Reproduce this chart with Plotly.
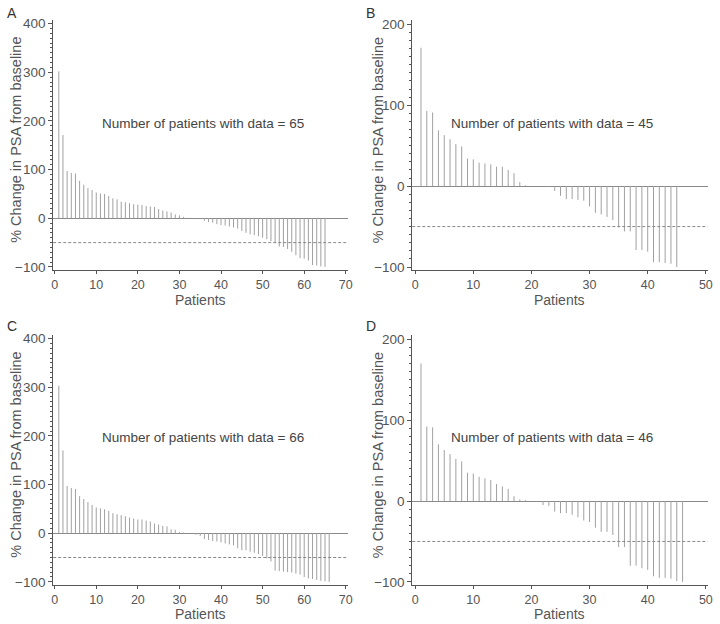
import plotly.graph_objects as go

# ---------------- data ----------------
change_A = [302, 171, 97, 93, 92, 77, 69, 62, 58, 53, 51, 50, 46, 41, 39, 34, 33, 31, 29, 28,
            27, 25, 24, 23, 19, 16, 14, 12, 8, 6, 3, 1, 0, -1,
            -2, -5, -8, -9, -12, -14, -15, -17, -19, -21, -26, -30, -33, -35, -37, -40,
            -43, -47, -51, -58, -59, -63, -69, -76, -82, -83, -87, -96, -97, -99, -100]
change_B = [171, 93, 91, 69, 63, 58, 52, 49, 34, 33, 29, 28, 27, 24, 24, 20, 16, 5, 1,
            0, 0, 0,
            -1, -6, -12, -16, -16, -17, -18, -25, -33, -35, -38, -42, -51, -56, -56,
            -79, -79, -81, -94, -94, -95, -96, -100]
change_C = [303, 170, 97, 93, 91, 76, 70, 64, 58, 53, 51, 49, 46, 41, 39, 37, 35, 32, 30, 28,
            28, 26, 24, 20, 18, 15, 14, 8, 7, 2, 1, 0, 0,
            -3, -6, -12, -14, -16, -17, -19, -21, -23, -25, -31, -35, -35, -38, -40,
            -43, -47, -52, -58, -77, -78, -79, -80, -81, -83, -85, -90, -93, -94, -96,
            -98, -99, -100]
change_D = [170, 92, 91, 70, 63, 58, 52, 49, 35, 34, 30, 28, 26, 21, 18, 15, 6, 2, 1,
            0, 0,
            -5, -6, -13, -15, -15, -17, -20, -24, -26, -33, -38, -38, -42, -57, -57,
            -80, -80, -83, -85, -93, -95, -95, -96, -99, -100]

panel_letters = ["A", "B", "C", "D"]
x_ticks_wide = [0, 10, 20, 30, 40, 50, 60, 70]
x_ticks_narrow = [0, 10, 20, 30, 40, 50]
y_ticks_wide = [-100, 0, 100, 200, 300, 400]
y_ticks_narrow = [-100, 0, 100, 200]
response_threshold = -50
x_title = "Patients"
y_title = "% Change in PSA from baseline"

W, H = 720, 624
def px(x):
    return x / W
def py(y):
    return 1 - y / H

panels = [
    dict(vals=change_A, xd=(51.7, 349.5), yd=(16.5, 269.5), xr=[-0.35, 70.55], yr=[-105.5, 407],
         xt=x_ticks_wide, yt=y_ticks_wide, letter=(3, 9), ytx=14, nx=203, ny=121, xty=300),
    dict(vals=change_B, xd=(414.3, 712.5), yd=(16.5, 269.5), xr=[-0.5, 50.3], yr=[-103.2, 205],
         xt=x_ticks_narrow, yt=y_ticks_narrow, letter=(366, 9), ytx=380, nx=555, ny=121, xty=300),
    dict(vals=change_C, xd=(51.7, 349.5), yd=(336, 589), xr=[-0.35, 70.55], yr=[-105.5, 407],
         xt=x_ticks_wide, yt=y_ticks_wide, letter=(3, 327), ytx=14, nx=203, ny=440, xty=618.5),
    dict(vals=change_D, xd=(414.3, 712.5), yd=(336, 589), xr=[-0.5, 50.3], yr=[-103.2, 205],
         xt=x_ticks_narrow, yt=y_ticks_narrow, letter=(366, 327), ytx=380, nx=555, ny=440, xty=618.5),
]

AXC = "#555555"
TXT = "#555555"
FONT = "Liberation Sans, Arial, Helvetica, sans-serif"

fig = go.Figure()
annotations = []
shapes = []
layout_axes = {}

for k, p in enumerate(panels):
    n = k + 1
    sfx = "" if n == 1 else str(n)
    xs, ys = [], []
    for i, v in enumerate(p["vals"], start=1):
        xs += [i, i, None]
        ys += [0, v, None]
    fig.add_trace(go.Scatter(x=xs, y=ys, mode="lines",
                             line=dict(color="#a0a0a0", width=1),
                             xaxis="x" + sfx, yaxis="y" + sfx,
                             hoverinfo="skip", showlegend=False))
    layout_axes["xaxis" + sfx] = dict(
        domain=[px(p["xd"][0]), px(p["xd"][1])], range=p["xr"], anchor="y" + sfx,
        showline=True, linecolor=AXC, linewidth=1, ticks="outside", ticklen=3,
        tickcolor=AXC, tickvals=p["xt"], showgrid=False, zeroline=False,
        tickfont=dict(size=12.5, color=TXT, family=FONT))
    layout_axes["yaxis" + sfx] = dict(
        domain=[py(p["yd"][1]), py(p["yd"][0])], range=p["yr"], anchor="x" + sfx,
        showline=True, linecolor=AXC, linewidth=1, ticks="outside", ticklen=4,
        tickcolor=AXC, tickvals=p["yt"], showgrid=False,
        minor=dict(dtick=10, tick0=0, ticks="outside", ticklen=2.5, tickcolor=AXC, showgrid=False),
        zeroline=True, zerolinecolor="#8a8a8a", zerolinewidth=1,
        tickfont=dict(size=13.5, color=TXT, family=FONT))
    shapes.append(dict(type="line", xref="x" + sfx + " domain", yref="y" + sfx,
                       x0=0, x1=1, y0=response_threshold, y1=response_threshold,
                       line=dict(color="#888888", width=1, dash="3px,2px")))
    annotations.append(dict(text=panel_letters[k], x=px(p["letter"][0]), y=py(p["letter"][1]),
                            xref="paper", yref="paper", xanchor="left", yanchor="middle",
                            showarrow=False, font=dict(size=14, color="#333333", family=FONT)))
    annotations.append(dict(text=y_title, x=px(p["ytx"]), y=py((p["yd"][0] + p["yd"][1]) / 2 - 5),
                            xref="paper", yref="paper", xanchor="center", yanchor="middle",
                            textangle=-90, showarrow=False,
                            font=dict(size=14.5, color=TXT, family=FONT)))
    annotations.append(dict(text=x_title, x=px((p["xd"][0] + p["xd"][1]) / 2), y=py(p["xty"]),
                            xref="paper", yref="paper", xanchor="center", yanchor="middle",
                            showarrow=False, font=dict(size=14, color=TXT, family=FONT)))
    annotations.append(dict(text="Number of patients with data = %d" % len(p["vals"]),
                            x=px(p["nx"]), y=py(p["ny"]), xref="paper", yref="paper",
                            xanchor="center", yanchor="middle", showarrow=False,
                            font=dict(size=13.5, color="#444444", family=FONT)))

fig.update_layout(width=W, height=H, margin=dict(l=0, r=0, t=0, b=0),
                  paper_bgcolor="white", plot_bgcolor="white",
                  annotations=annotations, shapes=shapes, **layout_axes)
fig.write_html("out.html", config={"displayModeBar": False},
               post_script="document.body.style.margin='0px';document.body.style.overflow='hidden';")
